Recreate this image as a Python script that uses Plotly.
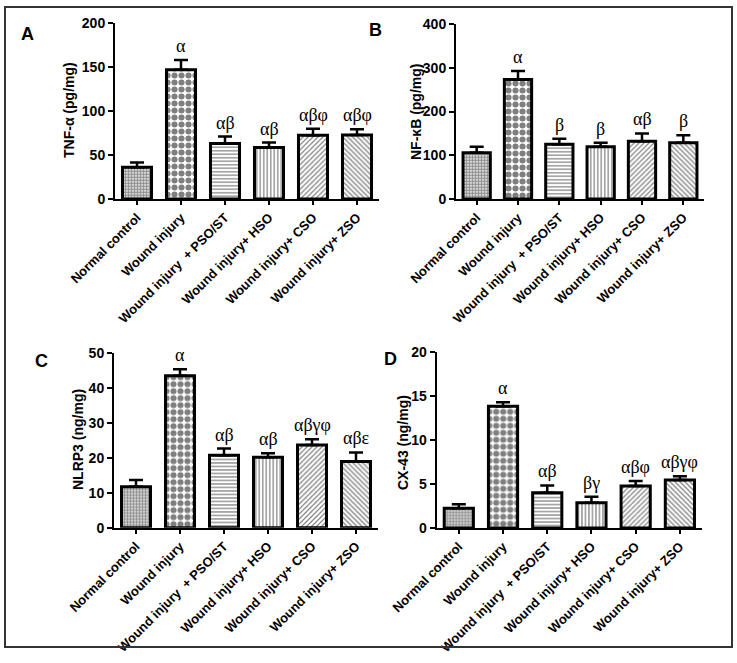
import plotly.graph_objects as go

W, H = 737, 663

categories = ["Normal control", "Wound injury", "Wound injury  + PSO/ST",
              "Wound injury+ HSO", "Wound injury+ CSO", "Wound injury+ ZSO"]

tnf_mean = [36, 147, 63, 58.5, 72.5, 72.7]
tnf_sem = [5.5, 11, 8, 5.7, 7.2, 6.5]
tnf_sig = ["", "α", "αβ", "αβ", "αβφ", "αβφ"]

nfkb_mean = [106, 273, 125, 119.5, 132, 128.5]
nfkb_sem = [13.5, 19.5, 12.8, 9.2, 18, 17.5]
nfkb_sig = ["", "α", "β", "β", "αβ", "β"]

nlrp3_mean = [11.7, 43.4, 20.7, 20.1, 23.6, 18.9]
nlrp3_sem = [1.9, 1.9, 1.9, 1.2, 1.7, 2.6]
nlrp3_sig = ["", "α", "αβ", "αβ", "αβγφ", "αβε"]

cx43_mean = [2.24, 13.86, 4.0, 2.88, 4.77, 5.45]
cx43_sem = [0.46, 0.44, 0.85, 0.68, 0.57, 0.45]
cx43_sig = ["", "α", "αβ", "βγ", "αβφ", "αβγφ"]

y_titles = ["TNF-α (pg/mg)", "NF-κB (pg/mg)", "NLRP3 (ng/mg)", "CX-43 (ng/mg)"]
y_ranges = [[0, 200], [0, 400], [0, 50], [0, 20]]
y_dticks = [50, 100, 10, 5]
panel_letters = ["A", "B", "C", "D"]

# pixel geometry of each panel: (x_left, x_right, y_bottom, y_top)
geom = [(115, 379, 199, 23), (456, 704, 199, 24),
        (114, 378, 527.7, 352.7), (436.7, 702, 528, 352.3)]
letter_pos = [(27, 34), (375, 30), (41, 361), (390, 359)]
title_pos = [(69, 110), (416, 112), (78, 440), (403, 442)]

pat_shapes = [".", ".", "-", "|", "/", "\\"]
pat_sizes = [3, 7, 3.5, 3.5, 3.5, 3.5]
pat_solid = [0.7, 0.6, 0.35, 0.35, 0.35, 0.35]
pat_fg = ["#222222", "black", "black", "black", "black", "black"]

data = [(tnf_mean, tnf_sem, tnf_sig), (nfkb_mean, nfkb_sem, nfkb_sig),
        (nlrp3_mean, nlrp3_sem, nlrp3_sig), (cx43_mean, cx43_sem, cx43_sig)]

fig = go.Figure()
annotations = []
layout = {}
bold = dict(family="Liberation Sans, Arial", size=14, color="black", weight="bold")

for i, (means, sems, sigs) in enumerate(data):
    ax = "" if i == 0 else str(i + 1)
    xl, xr, yb, yt = geom[i]
    fig.add_trace(go.Bar(
        x=categories, y=means, xaxis="x" + ax, yaxis="y" + ax,
        marker=dict(color="white",
                    line=dict(color="black", width=3),
                    pattern=dict(shape=pat_shapes, size=pat_sizes, solidity=pat_solid,
                                 fgcolor=pat_fg, bgcolor="white")),
        error_y=dict(type="data", array=sems, arrayminus=[0] * len(sems), symmetric=False,
                     color="black", thickness=2.5, width=7),
        showlegend=False,
    ))
    layout["xaxis" + ax] = dict(
        domain=[xl / W, xr / W], anchor="y" + ax, range=[-0.5, 5.5], automargin=False,
        showline=True, linecolor="black", linewidth=2,
        ticks="outside", ticklen=4, tickwidth=1.5, tickcolor="black",
        tickangle=-45, tickfont=dict(family="Liberation Sans, Arial", size=13,
                                     color="black", weight="bold"),
        showgrid=False, zeroline=False, fixedrange=True,
    )
    layout["yaxis" + ax] = dict(
        domain=[1 - yb / H, 1 - yt / H], anchor="x" + ax, range=y_ranges[i], automargin=False,
        dtick=y_dticks[i], tick0=0,
        showline=True, linecolor="black", linewidth=2,
        ticks="outside", ticklen=5, tickwidth=2, tickcolor="black",
        tickfont=bold, showgrid=False, zeroline=False,
    )
    for c, m, s, t in zip(categories, means, sems, sigs):
        if t:
            annotations.append(dict(
                x=c, y=m + s, xref="x" + ax, yref="y" + ax, text=t, showarrow=False,
                yanchor="bottom", yshift=2,
                font=dict(family="Liberation Serif, Times New Roman", size=18, color="black"),
            ))
    lx, ly = letter_pos[i]
    annotations.append(dict(
        x=lx / W, y=1 - ly / H, xref="paper", yref="paper", text=panel_letters[i],
        showarrow=False, xanchor="center", yanchor="middle",
        font=dict(family="Liberation Sans, Arial", size=18, color="black", weight="bold"),
    ))
    tx, ty = title_pos[i]
    annotations.append(dict(
        x=tx / W, y=1 - ty / H, xref="paper", yref="paper", text=y_titles[i],
        showarrow=False, xanchor="center", yanchor="middle", textangle=-90,
        font=bold,
    ))

fig.update_layout(
    width=W, height=H, margin=dict(l=0, r=0, t=0, b=0, autoexpand=False),
    paper_bgcolor="white", plot_bgcolor="white",
    bargap=0.34, annotations=annotations,
    shapes=[dict(type="rect", xref="paper", yref="paper",
                 x0=5 / W, x1=732 / W, y0=1 - 647 / H, y1=1 - 7 / H,
                 line=dict(color="#333333", width=2))],
    **layout,
)

fig.write_html("out.html", config={"displayModeBar": False},
               post_script="document.body.style.margin='0px';document.body.style.overflow='hidden';")
